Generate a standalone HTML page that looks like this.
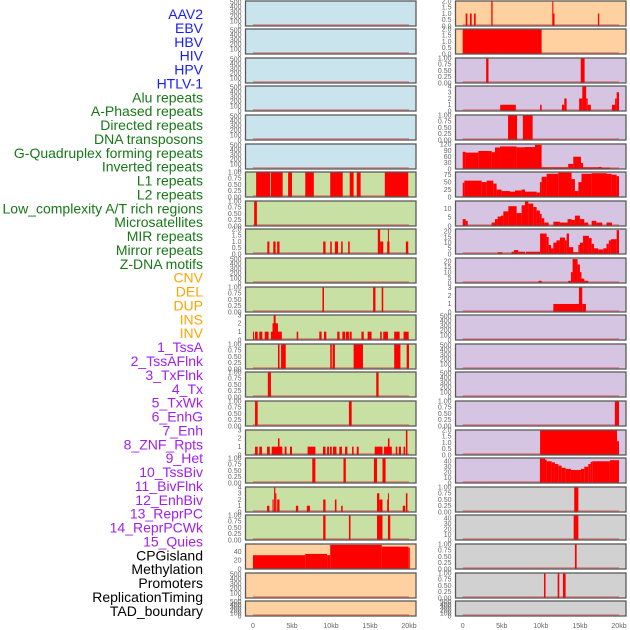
<!DOCTYPE html>
<html><head><meta charset="utf-8"><style>
html,body{margin:0;padding:0;background:#fff;}
svg{display:block;font-family:"Liberation Sans",sans-serif;}
</style></head><body>
<svg id="chart" width="630" height="630" viewBox="0 0 630 630"></svg>
<script>
// ---- labels ----
const trackLabels = ["AAV2","EBV","HBV","HIV","HPV","HTLV-1","Alu repeats","A-Phased repeats","Directed repeats","DNA transposons","G-Quadruplex forming repeats","Inverted repeats","L1 repeats","L2 repeats","Low_complexity A/T rich regions","Microsatellites","MIR repeats","Mirror repeats","Z-DNA motifs","CNV","DEL","DUP","INS","INV","1_TssA","2_TssAFlnk","3_TxFlnk","4_Tx","5_TxWk","6_EnhG","7_Enh","8_ZNF_Rpts","9_Het","10_TssBiv","11_BivFlnk","12_EnhBiv","13_ReprPC","14_ReprPCWk","15_Quies","CPGisland","Methylation","Promoters","ReplicationTiming","TAD_boundary"];
const labelGroups = ["v","v","v","v","v","v","r","r","r","r","r","r","r","r","r","r","r","r","r","s","s","s","s","s","c","c","c","c","c","c","c","c","c","c","c","c","c","c","c","o","o","o","o","o"];
const xTicks = [0,5,10,15,20];
const xTickLabels = ["0","5kb","10kb","15kb","20kb"];
// tick sets
const t500 = [0,100,200,300,400,500];
const t1 = [0,0.25,0.5,0.75,1];
const t2 = [0,0.5,1,1.5,2];
const t3 = [0,1,2,3];
const t4 = [0,1,2,3,4];
// ---- left column data: [startKb, endKb, value] ----
const L6 = [[0.4,2.2,1],[2.3,3.8,1],[4.5,5.0,1],[6.7,7.8,1],[9.9,11.5,1],[12.4,12.9,1],[13.3,13.8,1],[16.9,19.9,1]];
const L7 = [[0.15,0.5,1]];
const L8 = [[1.84,2.1,1],[2.6,2.9,1],[3.1,3.4,1],[9.0,9.3,1],[9.9,10.1,1],[10.5,10.9,1],[11.3,11.5,1],[12.2,12.4,1],[16.0,16.3,2],[16.3,16.7,1],[17.2,17.5,1],[17.3,17.4,2],[19.6,19.9,1]];
const L10 = [[8.9,9.1,1],[15.4,15.7,1],[16.5,16.7,1]];
const L11 = [[0,0.13,1],[0.26,0.6,1],[0.8,1.2,1],[1.5,2.0,1],[2.3,3.7,1],[2.5,3.2,2],[2.65,2.9,3],[5.6,5.8,1],[8.5,8.8,1],[9.1,9.4,1],[10.8,11.1,1],[11.45,11.8,1],[11.9,12.3,1],[12.4,12.65,1],[13.9,14.2,1],[14.7,15.2,1],[16.3,16.5,1],[16.7,17.3,1],[18.1,18.8,1],[19.3,19.96,1]];
const L12 = [[3.2,3.4,1],[3.6,4.2,1],[9.9,10.1,1],[10.2,10.5,1],[12.9,14.1,1],[18.1,18.9,1],[19.7,20,1]];
const L13 = [[1.9,2.3,1],[15.8,16.1,1]];
const L14 = [[0.26,0.6,1],[12.3,12.65,1]];
const L15 = [[0.26,0.6,1],[0.81,1.15,1],[1.8,2.15,1],[2.4,3.76,1],[3.2,3.4,2],[4.06,4.3,1],[4.74,5.0,1],[7.0,8.0,1],[8.97,9.3,1],[9.5,9.74,1],[9.87,10.1,1],[10.26,10.7,1],[11.07,11.4,1],[11.8,12.1,1],[12.7,12.9,1],[13.3,13.55,1],[15.6,16.6,1],[16.8,17.8,1],[17.3,17.5,2],[18.3,18.5,1],[18.7,18.97,1],[19.3,19.5,1],[19.6,19.8,3]];
const L16 = [[7.6,8.0,1],[11.6,11.9,1],[15.5,15.9,1],[16.6,17.0,1]];
const L17 = [[1.8,2.1,1],[2.5,2.65,2],[2.7,2.86,4],[2.86,3.0,3],[3.1,3.4,2],[5.5,5.8,1],[6.9,7.3,1],[9.0,9.3,2],[10.5,10.7,2],[11.3,11.5,1],[15.9,16.2,3],[16.2,16.6,2],[17.2,17.4,2],[17.3,17.4,3],[19.2,19.5,1],[19.6,19.8,3]];
const L18 = [[9.0,9.3,1],[12.3,12.5,1],[15.9,16.6,1],[17.3,17.6,1]];
const L19 = [[0,6.7,32],[6.7,9.5,35],[9.5,9.9,32],[9.9,16.5,56],[16.5,19.9,52],[19.9,20.1,50]];
// ---- right column data ----
const R0 = [[0.38,0.6,1],[0.93,1.15,1],[1.45,1.66,1],[3.66,3.83,2],[11.46,11.6,2],[11.5,11.75,1],[17.3,17.47,1]];
const R1 = [[0,10.1,2]];
const R2 = [[3.0,3.3,1],[15.1,15.6,1]];
const R3 = [[4.8,6.8,1],[9.9,10.1,1],[12.7,13.0,1],[13.0,13.3,2],[14.9,15.3,2],[15.3,15.8,4],[15.8,16.0,2],[16.0,16.4,1],[19.1,19.5,1],[19.5,19.7,2],[19.7,20,3]];
const R4 = [[5.8,6.95,1],[7.7,8.95,1]];
const R5 = [[0,0.38,84],[0.38,2.0,80],[2.0,3.7,88],[3.7,4.13,82],[4.13,4.77,105],[4.77,6.9,110],[6.9,7.97,106],[7.97,9.25,107],[9.25,10.1,118],[10.1,13.5,8],[13.5,14.15,25],[14.15,15.13,60],[15.13,15.4,30],[15.4,17.35,8],[17.35,17.77,10],[17.77,18.84,6],[18.84,20,3]];
const R6 = [[0,0.21,48],[0.21,2.43,55],[2.43,3.07,50],[3.07,3.92,55],[3.92,4.34,45],[4.34,4.98,25],[4.98,6.05,20],[6.05,6.69,18],[6.69,7.54,22],[7.54,7.97,25],[7.97,9.46,18],[9.46,9.88,15],[9.88,10.1,50],[10.1,10.74,68],[10.74,12.23,78],[12.23,13.93,82],[13.93,14.36,60],[14.36,14.8,20],[14.8,15.2,50],[15.2,16.5,78],[16.5,18.4,80],[18.4,19.05,78],[19.05,19.69,75],[19.69,20,70]];
const R7 = [[0,0.38,4],[0.38,0.64,3],[0.64,3.7,0.3],[3.7,4.13,2],[4.13,4.47,4],[4.47,4.9,5.5],[4.9,5.2,6],[5.2,5.84,8.5],[5.84,6.9,11.5],[6.9,7.54,7.5],[7.54,7.97,12],[7.97,8.4,14.5],[8.4,9.03,13],[9.03,9.46,11],[9.46,9.88,9],[9.88,10.1,7],[10.1,10.44,4.5],[10.44,11.0,2],[11.0,11.6,0.3],[11.6,12.44,2.5],[12.44,13.42,2],[13.42,13.93,4],[13.93,14.36,3.5],[14.36,15.0,6],[15.0,15.56,4],[15.56,16.07,2],[16.07,16.5,0.3],[16.5,17.1,3],[17.1,17.86,2],[17.86,18.4,0.3],[18.4,19.1,2],[19.1,20,0.3]];
const R8 = [[0,4.47,0.3],[4.47,5.07,1.5],[5.07,6.26,0.3],[6.26,6.56,2],[6.56,7.1,3.5],[7.1,7.97,2],[7.97,8.1,0.3],[8.1,9.9,2],[9.9,10.74,18],[10.74,11.0,15],[11.0,11.3,8],[11.3,11.6,5],[11.6,12.0,10],[12.0,12.44,12],[12.44,13.08,14.5],[13.08,13.3,12],[13.3,13.6,18],[13.6,14.15,6],[14.15,14.8,1.5],[14.8,15.0,8],[15.0,15.4,10],[15.4,16.15,16],[16.15,16.5,14],[16.5,16.8,9],[16.8,17.35,5],[17.35,17.99,4],[17.99,18.4,5],[18.4,18.7,9],[18.7,18.96,12],[18.96,19.7,13],[19.7,20,21]];
const R9 = [[0,9.7,0.3],[9.7,10.1,2],[10.1,13.5,0.3],[13.5,13.85,2],[13.85,14.06,10],[14.06,14.7,22],[14.7,15.0,17],[15.0,15.2,10],[15.2,15.56,4],[15.56,16.07,2],[16.07,20,0.3]];
const R10 = [[11.6,14.88,1],[14.88,15.3,3.1],[15.3,15.77,1]];
const R14 = [[19.47,20,1]];
const R15 = [[9.9,19.75,2],[19.75,20,1.1]];
const R16 = [[0,3.07,0.3],[3.07,9.88,1],[9.88,10.53,45],[10.53,10.74,43],[10.74,11.38,40],[11.38,11.8,38],[11.8,12.23,35],[12.23,12.66,32],[12.66,13.17,28],[13.17,13.85,26],[13.85,15.13,24],[15.13,15.56,26],[15.56,16.07,30],[16.07,16.37,35],[16.37,16.58,39],[16.58,18.84,40],[18.84,20,42]];
const R17 = [[14.27,14.8,1]];
const R18 = [[14.2,14.8,45]];
const R19 = [[14.36,14.58,1]];
const R20 = [[10.4,10.6,1],[12.15,12.36,1],[12.83,13.17,1]];
// per-row config: [segments, yMax, ticks, bg]
const leftRows = [
 [[],520,t500,"b"],[[],520,t500,"b"],[[],520,t500,"b"],[[],520,t500,"b"],[[],520,t500,"b"],[[],520,t500,"b"],
 [L6,1,t1,"g"],[L7,1,t1,"g"],[L8,2,t2,"g"],[[],520,t500,"g"],[L10,1,t1,"g"],[L11,3,t3,"g"],
 [L12,1,t1,"g"],[L13,1,t1,"g"],[L14,1,t1,"g"],[L15,3,t3,"g"],[L16,1,t1,"g"],[L17,4,t4,"g"],[L18,1,t1,"g"],
 [L19,58,[0,20,40],"o"],[[],520,t500,"o"],[[],520,t500,"o"]];
const rightRows = [
 [R0,2,t2,"o"],[R1,2,t2,"o"],
 [R2,1,t1,"p"],[R3,4,t4,"p"],[R4,1,t1,"p"],[R5,122,[0,30,60,90,120],"p"],[R6,84,[0,25,50,75],"p"],
 [R7,14.5,[0,5,10],"p"],[R8,22,[0,5,10,15,20],"p"],[R9,23,[0,5,10,15,20],"p"],[R10,3.1,t3,"p"],
 [[],520,t500,"p"],[[],520,t500,"p"],[[],520,t500,"p"],[R14,1,t1,"p"],[R15,2,t2,"p"],[R16,46,[0,10,20,30,40],"p"],
 [R17,1,t1,"k"],[R18,46,[0,10,20,30,40],"k"],[R19,1,t1,"k"],[R20,1,t1,"k"],[[],520,t500,"k"]];

const NS="http://www.w3.org/2000/svg";
const svg=document.getElementById('chart');
const bgColors={b:"#c9e4ec",g:"#c8e0a4",o:"#ffd1a0",p:"#d5c5e3",k:"#d1d1d1"};
const labelColors={v:"#1a1aff",r:"#177817",s:"#ffa500",c:"#a020f0",o:"#000000"};
function mk(tag,attrs,parent){const e=document.createElementNS(NS,tag);for(const k in attrs)e.setAttribute(k,attrs[k]);(parent||svg).appendChild(e);return e;}

// labels
trackLabels.forEach((t,i)=>{
  const e=mk('text',{x:203,y:14+i*13.88,'text-anchor':'end','dominant-baseline':'central','font-size':14,fill:labelColors[labelGroups[i]]});
  e.textContent=t;
  
  
});

function fmt(v,ticks){
  const mx=ticks[ticks.length-1];
  if(mx===1) return v.toFixed(2);
  if(mx===2) return v.toFixed(1);
  return String(v);
}
function drawColumn(rows,panelX,panelW,x0,x20,side){
  const xs=kb=>x0+(x20-x0)*kb/20;
  rows.forEach((r,i)=>{
    const [segs,ymax,ticks,bg]=r;
    const top=Math.round(0.5+28.6*i);
    const h=(i===21)?15:25;
    const ys=v=>top+h-h*Math.min(v,ymax)/ymax;
    const g=mk('g',{});
    
    
    mk('rect',{x:panelX,y:top,width:panelW,height:h,fill:bgColors[bg]},g);
    mk('rect',{x:xs(0),y:top+h-2,width:xs(20)-xs(0),height:2,fill:"rgba(230,60,60,0.45)"},g);
    segs.forEach(s=>{
      const b=mk('rect',{x:xs(s[0]),y:ys(s[2]),width:Math.max(1,xs(s[1])-xs(s[0])),height:top+h-ys(s[2]),fill:"#ff0000"},g);
      
      
    });
    mk('rect',{x:panelX,y:top,width:panelW,height:h,fill:"none",stroke:"#5a5a5a","stroke-width":1.3},g);
    ticks.forEach(t=>{
      const tl=mk('text',{x:panelX-4,y:ys(t)+2.3,'text-anchor':'end','font-size':7,fill:"#666"},g);
      tl.textContent=fmt(t,ticks);
      
      
    });
  });
  xTicks.forEach((t,j)=>{
    const e=mk('text',{x:xs(t),y:628,'text-anchor':'middle','font-size':7,fill:"#666"});
    e.textContent=xTickLabels[j];
    
    
  });
}
drawColumn(leftRows,245.5,170.5,253,409,'left');
drawColumn(rightRows,455.5,170.5,462.7,619,'right');
</script>
</body></html>
